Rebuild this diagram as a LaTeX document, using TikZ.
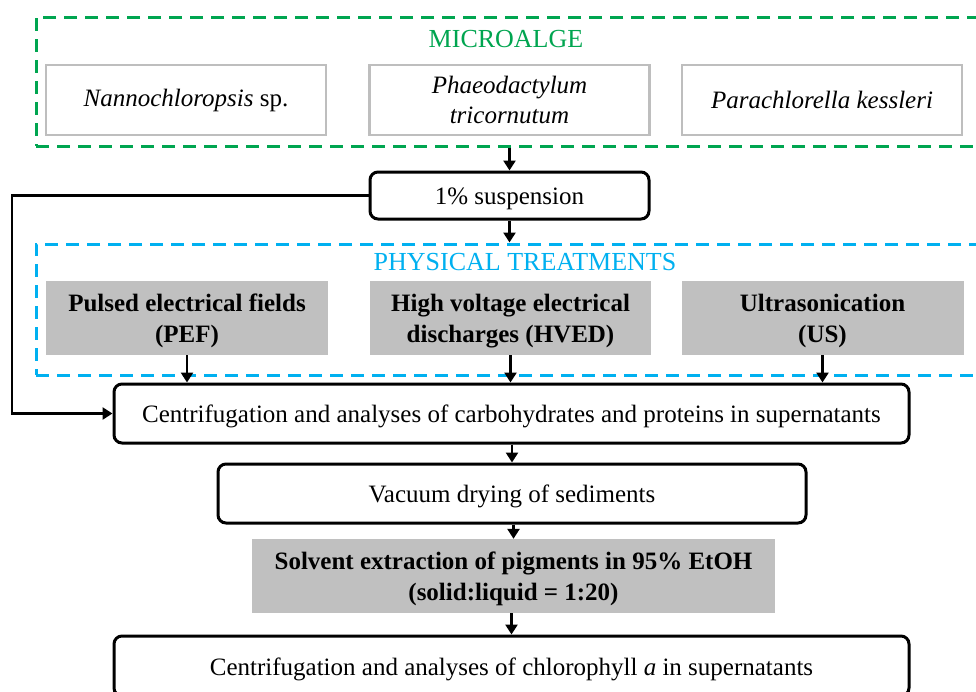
\documentclass[tikz,border=0pt]{standalone}
\usepackage{fontspec}
\setmainfont{Liberation Serif}
\usetikzlibrary{arrows.meta}
\definecolor{mgreen}{RGB}{0,165,80}
\definecolor{mblue}{RGB}{0,176,240}
\definecolor{fillgray}{RGB}{192,192,192}
\definecolor{linegray}{RGB}{190,190,190}
\newcommand{\lowrule}{\rule{0pt}{24pt}}
\begin{document}
\begin{tikzpicture}[x=1pt,y=-1pt,
  every node/.style={font=\fontsize{25}{31}\selectfont, inner sep=0pt, align=center},
  lowtext/.style={execute at begin node={\lowrule}},
  greenframe/.style={draw=mgreen, line width=3pt, dash pattern=on 13pt off 8pt, minimum width=964pt, minimum height=129pt},
  blueframe/.style={draw=mblue, line width=3pt, dash pattern=on 13pt off 8pt, minimum width=964pt, minimum height=131pt},
  species/.style={draw=linegray, line width=2.5pt, fill=white, minimum width=280pt, minimum height=70pt, font=\fontsize{25}{30}\selectfont\itshape},
  treat/.style={fill=fillgray, minimum width=282pt, minimum height=74pt, font=\fontsize{25}{31}\selectfont\bfseries},
  stepbox/.style={draw=black, lowtext, line width=3pt, rounded corners=8pt, fill=white, minimum height=59pt},
  title/.style={font=\fontsize{26}{31}\selectfont},
  arr/.style={draw=black, line width=2.5pt, -{Triangle[width=12pt,length=10pt]}}
]
\useasboundingbox (0,0) rectangle (976,691);
\clip (0,0) rectangle (976,691);
\fill[white] (0,0) rectangle (976,691);

% frames
\node[greenframe] (micro) at (518,81.5) {};
\node[blueframe] (phys) at (518,309.5) {};
\node[title, text=mgreen] (microt) at (506,39) {MICROALGE};
\node[title, text=mblue] (physt) at (525,262) {PHYSICAL TREATMENTS};

% species
\node[species] (nanno) at (186,100) {Nannochloropsis \upshape sp.};
\node[species] (phaeo) at (509.5,100) {Phaeodactylum\\ tricornutum};
\node[species] (para) at (822,100) {Parachlorella kessleri};

% suspension
\node[stepbox, minimum width=279pt, minimum height=47pt] (susp) at (509.5,195.5) {1\% suspension};

% treatments
\node[treat] (pef) at (187,318) {\lowrule Pulsed electrical fields\\(PEF)};
\node[treat, minimum width=281pt] (hved) at (510.5,318) {\lowrule High voltage electrical\\discharges (HVED)};
\node[treat] (us) at (822.5,318) {\lowrule Ultrasonication\\(US)};

% steps
\node[stepbox, minimum width=795pt] (cent) at (511.5,413.5) {Centrifugation and analyses of carbohydrates and proteins in supernatants};
\node[stepbox, minimum width=588pt] (vac) at (512,493.5) {Vacuum drying of sediments};
\node[treat, minimum width=523pt] (solv) at (513.5,576) {\lowrule Solvent extraction of pigments in 95\% EtOH\\(solid:liquid = 1:20)};
\node[stepbox, minimum width=795pt, minimum height=60pt] (chl) at (511.5,666) {Centrifugation and analyses of chlorophyll \textit{a} in supernatants};

% connectors
\draw[arr] (micro.south -| susp.north) -- (susp.north);
\draw[arr] (susp.south) -- (susp.south |- phys.north);
\draw[arr] (pef.south) -- (pef.south |- cent.north);
\draw[arr] (hved.south) -- (hved.south |- cent.north);
\draw[arr] (us.south) -- (us.south |- cent.north);
\coordinate (fb) at (12,195.5);
\draw[arr] (susp.west) -- (fb) |- (cent.west);
\draw[arr] (cent.south -| vac.north) -- (vac.north);
\draw[arr] (vac.south -| solv.north) -- (solv.north);
\draw[arr] (solv.south -| chl.north) -- (chl.north);
\end{tikzpicture}
\end{document}
